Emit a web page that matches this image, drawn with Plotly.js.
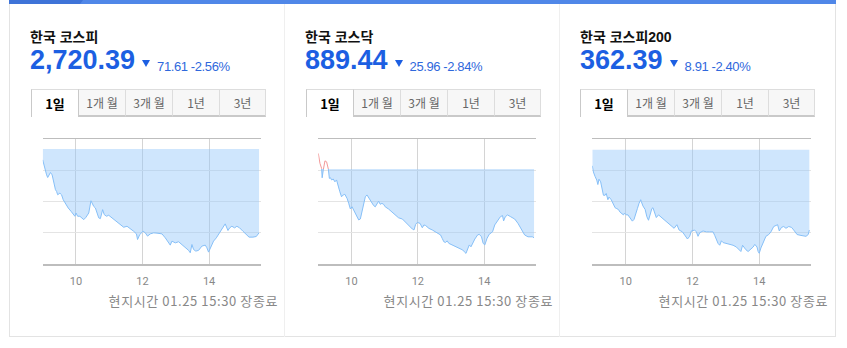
<!DOCTYPE html>
<html><head><meta charset="utf-8">
<script src="https://cdn.plot.ly/plotly-3.0.1.min.js"></script>
<style>
body{margin:0;width:847px;height:348px;overflow:hidden;background:#fff;position:relative;font-family:"Liberation Sans","Noto Sans CJK KR",sans-serif}
#chart{position:absolute;left:0;top:0;width:847px;height:348px;z-index:1}
.a{position:absolute;z-index:2;white-space:nowrap}
.title{font-size:14px;line-height:14px;font-weight:bold;color:#111}
.row{display:flex;align-items:flex-start}
.num{font-size:27px;line-height:27px;height:27px;font-weight:bold;color:#1c5fe2}
.tri{width:0;height:0;border-left:4.5px solid transparent;border-right:4.5px solid transparent;border-top:7px solid #1c5fe2;margin-top:13px;margin-left:7px}
.chg{font-size:13px;line-height:13px;margin-top:13px;margin-left:7px;color:#2f68dc;letter-spacing:-0.4px}
.tabs{display:flex;height:28px}
.tab{box-sizing:border-box;width:47px;height:28px;background:#f7f7f7;border-top:1px solid #ddd;border-left:1px solid #ddd;border-bottom:2px solid #c9c9c9;color:#666;font-size:12px;text-align:center;line-height:26px;font-family:"Noto Sans CJK KR",sans-serif}
.tab.sel{background:#fff;border-left:1px solid #c9c9c9;border-bottom:none;color:#000;font-weight:bold;font-size:13px;line-height:27px}
.tab.s2{border-left:1px solid #c9c9c9}
.tab.last{border-right:1px solid #ddd}
.foot{font-size:13px;line-height:14px;color:#888;text-align:right;width:260px;letter-spacing:0.6px;font-family:"Noto Sans CJK KR",sans-serif}
</style></head>
<body>
<div class="a" style="left:9px;top:0;width:825px;height:336px;border-left:1px solid #e3e3e3;border-right:1px solid #e3e3e3;border-bottom:1px solid #e3e3e3;z-index:0"></div>
<div class="a" style="left:284px;top:4px;width:1px;height:333px;background:#efefef;z-index:0"></div>
<div class="a" style="left:559px;top:4px;width:1px;height:333px;background:#efefef;z-index:0"></div>
<div class="a" style="left:9px;top:0;width:827px;height:4px;background:#5087e8"></div>
<div class="a" style="left:9px;top:0;width:74px;height:4px;background:#3e73d8;clip-path:polygon(0 0,100% 0,calc(100% - 3px) 100%,0 100%)"></div>
<div id="chart"></div>
<script>
// ---- data ----
const panelNames = ['한국 코스피', '한국 코스닥', '한국 코스피200'];
const closeLabels = ['2,720.39', '889.44', '362.39'];
const changeLabels = ['71.61', '25.96', '8.91'];
const changePcts = ['-2.56%', '-2.84%', '-2.40%'];
const prevClose = [2792.00, 915.40, 371.30];
const tabLabels = ['1일', '1개 월', '3개 월', '1년', '3년'];
const tickHours = [10, 12, 14];
const tickLabels = ['10', '12', '14'];
const footerText = '현지시간 01.25 15:30 장종료';

const kospiTimes = ['09:00','09:04','09:07','09:09','09:14','09:17','09:20','09:23','09:25','09:27','09:31','09:34','09:37','09:42','09:46','09:51','09:55','09:58','10:00','10:03','10:07','10:14','10:18','10:23','10:27','10:32','10:35','10:38','10:41','10:44','10:48','10:51','10:55','10:59','11:05','11:11','11:17','11:21','11:26','11:32','11:38','11:44','11:49','11:51','11:55','12:01','12:05','12:09','12:14','12:20','12:26','12:35','12:41','12:47','12:50','12:53','12:59','13:05','13:11','13:17','13:23','13:26','13:29','13:32','13:36','13:41','13:47','13:53','13:56','13:59','14:03','14:08','14:13','14:20','14:25','14:29','14:34','14:37','14:41','14:46','14:50','14:55','15:01','15:07','15:12','15:19','15:25','15:30'];
const kospiValues = [2783.3,2775.3,2771.3,2769.2,2773.2,2771.3,2764.7,2759.4,2758.1,2755.4,2756.7,2755.4,2751.4,2747.5,2744.8,2742.2,2739.5,2738.2,2740.8,2738.2,2738.2,2735.5,2737.4,2740.8,2750.6,2746.1,2744.8,2740.8,2736.9,2736.3,2743.5,2739.5,2738.2,2739.0,2736.9,2734.7,2732.9,2731.6,2729.4,2730.2,2728.4,2726.2,2724.1,2719.6,2723.6,2726.2,2724.9,2722.3,2724.1,2724.9,2724.7,2724.1,2720.9,2716.9,2715.1,2718.3,2716.9,2717.8,2715.6,2713.0,2710.9,2709.0,2715.6,2711.6,2710.3,2710.9,2714.3,2715.1,2713.0,2709.5,2713.0,2718.3,2720.9,2726.2,2730.2,2732.1,2726.8,2728.9,2730.2,2728.9,2730.2,2728.9,2726.2,2723.6,2721.5,2721.5,2722.0,2724.9];

const kosdaqTimes = ['09:00','09:03','09:06','09:07','09:09','09:12','09:15','09:18','09:20','09:22','09:24','09:27','09:30','09:33','09:36','09:39','09:42','09:45','09:48','09:52','09:55','09:58','10:01','10:04','10:07','10:10','10:13','10:16','10:19','10:22','10:25','10:28','10:31','10:34','10:37','10:40','10:43','10:46','10:49','10:52','10:55','10:58','11:01','11:07','11:13','11:19','11:25','11:32','11:38','11:44','11:50','11:53','11:56','11:59','12:04','12:08','12:11','12:14','12:20','12:26','12:32','12:38','12:41','12:44','12:47','12:50','12:53','12:56','13:02','13:08','13:15','13:21','13:24','13:27','13:30','13:33','13:36','13:39','13:43','13:48','13:51','13:55','13:58','14:01','14:05','14:09','14:15','14:19','14:24','14:29','14:33','14:35','14:38','14:42','14:48','14:55','15:01','15:07','15:13','15:19','15:27','15:30'];
const kosdaqValues = [920.4,917.2,915.6,912.6,915.1,918.0,917.7,915.6,912.4,912.6,911.9,912.2,911.3,911.9,909.7,908.1,906.5,907.1,907.3,906.0,904.4,902.6,903.3,902.3,901.5,900.1,899.1,899.4,901.5,904.4,906.5,907.1,906.2,905.5,904.4,903.7,903.3,904.4,905.1,904.1,904.4,904.1,903.3,902.6,901.7,900.7,899.8,899.4,898.3,897.5,896.2,895.9,897.7,898.3,898.0,896.6,897.5,897.3,896.4,895.9,895.3,894.5,894.3,893.2,892.1,891.9,892.4,891.6,891.1,890.5,890.0,889.5,888.9,888.4,889.8,891.1,890.5,891.6,893.0,894.3,894.5,893.7,891.6,891.1,893.2,894.5,895.3,897.5,898.8,900.1,900.5,898.8,900.1,900.7,900.1,899.4,898.0,895.9,894.3,893.7,893.7,893.4];

const kospi200Times = ['09:00','09:02','09:05','09:08','09:10','09:12','09:15','09:17','09:20','09:23','09:25','09:28','09:30','09:34','09:38','09:41','09:44','09:47','09:50','09:53','09:56','09:58','10:01','10:04','10:08','10:12','10:15','10:18','10:21','10:24','10:27','10:28','10:31','10:35','10:38','10:41','10:44','10:47','10:49','10:52','10:55','10:59','11:03','11:09','11:15','11:21','11:27','11:32','11:36','11:42','11:48','11:51','11:55','11:58','12:04','12:07','12:10','12:13','12:19','12:25','12:31','12:37','12:40','12:43','12:46','12:49','12:52','12:55','13:01','13:07','13:13','13:19','13:24','13:27','13:30','13:33','13:36','13:40','13:44','13:49','13:52','13:56','13:58','14:00','14:03','14:08','14:12','14:17','14:21','14:26','14:31','14:33','14:36','14:40','14:44','14:48','14:53','14:58','15:02','15:08','15:15','15:24','15:28','15:30'];
const kospi200Values = [369.5,368.8,368.3,367.9,367.4,368.0,367.7,367.2,366.2,366.2,366.4,365.7,366.0,365.7,365.1,364.8,364.7,364.6,364.3,364.1,364.0,364.2,364.0,364.0,363.7,363.3,363.5,364.0,364.7,365.3,365.7,365.5,365.0,364.6,363.8,363.4,364.0,364.7,364.8,364.1,363.7,364.0,363.8,363.5,363.2,362.9,362.5,362.9,362.3,362.1,361.6,361.3,361.6,362.2,362.3,362.1,361.6,362.0,362.2,362.1,362.1,362.1,361.7,361.2,360.8,360.6,361.1,360.9,360.8,360.7,360.6,360.4,360.1,359.9,360.6,360.3,360.1,359.9,360.1,360.4,360.7,360.4,359.9,359.7,360.3,361.1,361.6,361.8,362.1,362.7,362.9,362.9,362.2,362.6,362.7,362.5,362.7,362.6,362.3,361.8,361.7,361.6,361.8,362.3];

// ---- page text ----
const textLeft = [30, 305, 580];
const tabLeft = [31, 306, 580];
const footRight = [278, 553, 828];
panelNames.forEach((n, i) => {
  const t = document.createElement('div');
  t.className = 'a title'; t.style.left = textLeft[i] + 'px'; t.style.top = '30px';
  t.textContent = n; document.body.appendChild(t);
  const r = document.createElement('div');
  r.className = 'a row'; r.style.left = textLeft[i] + 'px'; r.style.top = '47px';
  r.innerHTML = '<span class="num">' + closeLabels[i] + '</span><span class="tri"></span><span class="chg">' + changeLabels[i] + ' ' + changePcts[i] + '</span>';
  document.body.appendChild(r);
  const tb = document.createElement('div');
  tb.className = 'a tabs'; tb.style.left = tabLeft[i] + 'px'; tb.style.top = '89px';
  tabLabels.forEach((l, k) => {
    const d = document.createElement('div');
    d.className = 'tab' + (k === 0 ? ' sel' : '') + (k === 1 ? ' s2' : '') + (k === tabLabels.length - 1 ? ' last' : '');
    d.textContent = l; tb.appendChild(d);
  });
  document.body.appendChild(tb);
  const f = document.createElement('div');
  f.className = 'a foot'; f.style.left = (footRight[i] - 260) + 'px'; f.style.top = '294px';
  f.textContent = footerText; document.body.appendChild(f);
});

// ---- chart ----
const W = 847, H = 348;
const toHour = s => { const [h, m] = s.split(':').map(Number); return h + m / 60; };
function build(times, vals, base) {
  const xs = [], ys = [];
  for (let i = 0; i < times.length; i++) {
    const x = toHour(times[i]), y = vals[i];
    if (i > 0) {
      const px = toHour(times[i - 1]), py = vals[i - 1];
      if ((py - base) * (y - base) < 0) {
        const f = (base - py) / (y - py);
        xs.push(px + f * (x - px)); ys.push(base);
      }
    }
    xs.push(x); ys.push(y);
  }
  return { xs, ys };
}
const series = [[kospiTimes, kospiValues], [kosdaqTimes, kosdaqValues], [kospi200Times, kospi200Values]];
const yRanges = [[2700, 2800, 25], [885, 925, 10], [358.5, 372.5, 3.5]];
const plotX = [[42.7, 260.7], [318.3, 535.7], [592.3, 811]];
const plotTop = 139, plotBottom = 264;
const traces = [];
const layout = {
  width: W, height: H, margin: { l: 0, r: 0, t: 0, b: 0 },
  paper_bgcolor: 'rgba(0,0,0,0)', plot_bgcolor: 'rgba(0,0,0,0)', showlegend: false
};
series.forEach(([times, vals], i) => {
  const base = prevClose[i];
  const { xs, ys } = build(times, vals, base);
  const sfx = i === 0 ? '' : String(i + 1);
  const xa = 'x' + sfx, ya = 'y' + sfx;
  traces.push({ x: xs, y: xs.map(() => base), xaxis: xa, yaxis: ya, mode: 'lines', line: { width: 0, color: 'rgba(0,0,0,0)' }, hoverinfo: 'skip' });
  traces.push({ x: xs, y: ys.map(v => Math.min(v, base)), xaxis: xa, yaxis: ya, mode: 'lines', fill: 'tonexty', fillcolor: 'rgba(148,200,250,0.45)', line: { width: 0, color: 'rgba(0,0,0,0)' }, hoverinfo: 'skip' });
  traces.push({ x: xs, y: ys.map(v => v <= base ? v : null), xaxis: xa, yaxis: ya, mode: 'lines', line: { width: 1, color: '#86bff7' }, connectgaps: false });
  traces.push({ x: xs, y: ys.map(v => v >= base ? v : null), xaxis: xa, yaxis: ya, mode: 'lines', line: { width: 1, color: '#f39a9a' }, connectgaps: false });
  layout['xaxis' + sfx] = {
    domain: [plotX[i][0] / W, plotX[i][1] / W], anchor: ya, range: [9, 15.55],
    tickmode: 'array', tickvals: tickHours, ticktext: tickLabels, ticks: '', ticklabelstandoff: 6,
    tickfont: { family: 'Roboto, sans-serif', size: 11, color: '#888' },
    showgrid: true, gridcolor: '#d4d4d4', gridwidth: 1, zeroline: false,
    showline: true, linecolor: '#bdbdbd', linewidth: 1.5, mirror: true, fixedrange: true
  };
  layout['yaxis' + sfx] = {
    domain: [1 - plotBottom / H, 1 - plotTop / H], anchor: xa,
    range: [yRanges[i][0], yRanges[i][1]], tick0: yRanges[i][0], dtick: yRanges[i][2],
    showticklabels: false, ticks: '', showgrid: true, gridcolor: '#e4e4e4', zeroline: false, showline: false, fixedrange: true
  };
});
Plotly.newPlot('chart', traces, layout, { staticPlot: true, displayModeBar: false });
</script>
</body></html>
